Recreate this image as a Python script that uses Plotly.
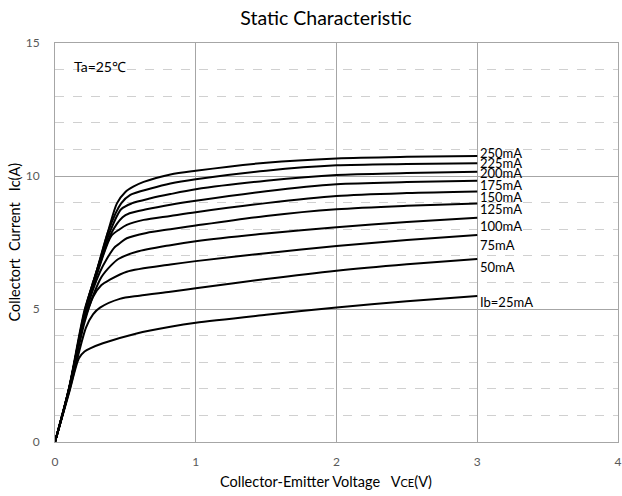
import plotly.graph_objects as go

# Base current of each curve (label text) and the measured Ic(Vce) points
labels = ["Ib=25mA", "50mA", "75mA", "100mA", "125mA",
          "150mA", "175mA", "200mA", "225mA", "250mA"]

vce_25 = [0, 0.1, 0.17, 0.21, 0.25, 0.34, 0.58, 0.82, 1.0, 1.5, 2.0, 2.5, 3.0]
ic_25 = [0, 1.85, 3.15, 3.4, 3.52, 3.71, 4.08, 4.33, 4.48, 4.78, 5.06, 5.29, 5.49]

vce_50 = [0, 0.1, 0.22, 0.27, 0.32, 0.46, 0.6, 0.82, 1.0, 1.5, 2.0, 2.5, 3.0]
ic_50 = [0, 1.9, 4.3, 4.8, 5.05, 5.38, 5.5, 5.65, 5.78, 6.13, 6.44, 6.68, 6.88]

vce_75 = [0, 0.1, 0.21, 0.27, 0.33, 0.39, 0.51, 0.82, 1.0, 1.5, 2.0, 2.5, 3.0]
ic_75 = [0, 1.95, 4.5, 5.45, 5.9, 6.1, 6.4, 6.67, 6.8, 7.1, 7.37, 7.59, 7.78]

vce_100 = [0, 0.1, 0.21, 0.33, 0.4, 0.45, 0.58, 0.82, 1.0, 1.5, 2.0, 2.5, 3.0]
ic_100 = [0, 2.0, 4.6, 6.2, 6.65, 6.88, 7.15, 7.4, 7.55, 7.84, 8.07, 8.27, 8.43]

vce_125 = [0, 0.1, 0.21, 0.32, 0.42, 0.46, 0.51, 0.65, 0.82, 1.0, 1.5, 2.0, 2.5, 3.0]
ic_125 = [0, 2.0, 4.7, 6.4, 7.3, 7.47, 7.66, 7.86, 8.0, 8.14, 8.5, 8.75, 8.88, 8.97]

vce_150 = [0, 0.1, 0.21, 0.31, 0.4, 0.46, 0.51, 0.63, 0.82, 1.0, 1.5, 2.0, 2.5, 3.0]
ic_150 = [0, 2.0, 4.75, 6.5, 7.75, 8.0, 8.16, 8.35, 8.5, 8.64, 8.98, 9.25, 9.36, 9.42]

vce_175 = [0, 0.1, 0.21, 0.31, 0.4, 0.48, 0.53, 0.65, 0.82, 1.0, 1.5, 2.0, 2.5, 3.0]
ic_175 = [0, 2.0, 4.8, 6.55, 7.85, 8.45, 8.6, 8.75, 8.92, 9.07, 9.43, 9.69, 9.77, 9.82]

vce_200 = [0, 0.1, 0.21, 0.3, 0.39, 0.47, 0.545, 0.68, 0.82, 1.0, 1.5, 2.0, 2.5, 3.0]
ic_200 = [0, 2.0, 4.85, 6.5, 7.9, 8.75, 8.97, 9.16, 9.32, 9.5, 9.82, 10.04, 10.11, 10.16]

vce_225 = [0, 0.1, 0.21, 0.3, 0.38, 0.47, 0.535, 0.68, 0.82, 1.0, 1.5, 2.0, 2.5, 3.0]
ic_225 = [0, 2.0, 4.9, 6.5, 7.95, 8.97, 9.29, 9.53, 9.72, 9.88, 10.2, 10.4, 10.45, 10.48]

vce_250 = [0, 0.1, 0.21, 0.3, 0.38, 0.44, 0.5, 0.556, 0.63, 0.82, 1.0, 1.5, 2.0, 2.5, 3.0]
ic_250 = [0, 2.05, 4.96, 6.47, 7.97, 8.97, 9.4, 9.6, 9.78, 10.06, 10.2, 10.5, 10.66, 10.72, 10.75]

vce_sets = [vce_25, vce_50, vce_75, vce_100, vce_125,
            vce_150, vce_175, vce_200, vce_225, vce_250]
ic_sets = [ic_25, ic_50, ic_75, ic_100, ic_125,
           ic_150, ic_175, ic_200, ic_225, ic_250]

# vertical centre of each curve label, in Ic units
label_y = [5.27, 6.58, 7.42, 8.13, 8.75, 9.2, 9.66, 10.12, 10.48, 10.88]

FONT = "Lato, 'Liberation Sans', sans-serif"
NB = "\u00a0"

fig = go.Figure()
for xs, ys in zip(vce_sets, ic_sets):
    fig.add_trace(go.Scatter(
        x=xs, y=ys, mode="lines",
        line=dict(color="black", width=2, shape="spline", smoothing=0.8),
        showlegend=False, hoverinfo="skip",
    ))

annotations = []
for name, xs, ly in zip(labels, vce_sets, label_y):
    annotations.append(dict(
        x=xs[-1], y=ly, xref="x", yref="y", text=name, showarrow=False,
        xanchor="left", yanchor="middle", xshift=1,
        font=dict(family=FONT, size=13, color="black"),
    ))

annotations.append(dict(
    x=0.12, y=14.1, xref="x", yref="y", text="Ta=25℃", showarrow=False,
    xanchor="left", yanchor="middle",
    font=dict(family=FONT, size=14, color="black"),
))

# axis titles
annotations.append(dict(
    x=0.481, y=0, xref="paper", yref="paper", yshift=-39,
    text="Collector-Emitter Voltage" + NB * 3
         + "V<span style='font-size:11px'>CE</span>(V)",
    showarrow=False, xanchor="center", yanchor="middle",
    font=dict(family=FONT, size=14.5, color="black"),
))
annotations.append(dict(
    x=0, y=0.5, xref="paper", yref="paper", xshift=-41,
    text="Collectort" + NB * 2 + "Current" + NB * 3 + "Ic(A)", textangle=-90,
    showarrow=False, xanchor="center", yanchor="middle",
    font=dict(family=FONT, size=14.5, color="black"),
))

fig.update_layout(
    width=622, height=496,
    margin=dict(l=55, r=4, t=43, b=54),
    paper_bgcolor="white", plot_bgcolor="white",
    title=dict(text="Static Characteristic", x=0.524, xref="container",
               xanchor="center", y=1 - 18 / 496, yref="container",
               yanchor="middle",
               font=dict(family=FONT, size=19.5, color="black")),
    annotations=annotations,
    showlegend=False,
)

fig.update_xaxes(
    range=[0, 4], dtick=1, tick0=0,
    showgrid=True, gridcolor="#a6a6a6", gridwidth=1,
    showline=True, linecolor="#a6a6a6", linewidth=1, mirror=True,
    zeroline=False, ticks="", ticklabelstandoff=9,
    tickfont=dict(family=FONT, size=12, color="#595959"),
    automargin=False,
)
fig.update_yaxes(
    range=[0, 15], dtick=5, tick0=0,
    showgrid=True, gridcolor="#a6a6a6", gridwidth=1,
    showline=True, linecolor="#a6a6a6", linewidth=1, mirror=True,
    zeroline=False, ticks="", ticklabelstandoff=12,
    tickfont=dict(family=FONT, size=12, color="#595959"),
    minor=dict(dtick=1, showgrid=True, gridcolor="#d0d0d0",
               griddash="dash", gridwidth=1),
    automargin=False,
)

fig.write_html("out.html")
